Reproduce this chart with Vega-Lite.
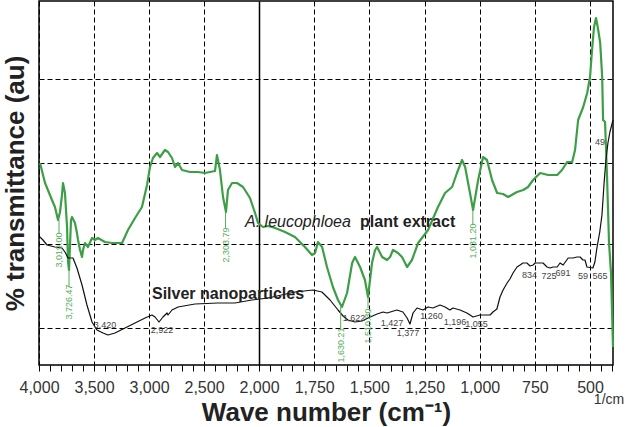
{
  "$schema": "https://vega.github.io/schema/vega-lite/v6.json",
  "width": 574,
  "height": 364,
  "autosize": "none",
  "padding": {"left": 39, "top": 1, "right": 13, "bottom": 62},
  "config": {
    "view": {"stroke": "#000", "strokeWidth": 1.5},
    "font": "Liberation Sans",
    "text": {"font": "Liberation Sans"}
  },
  "datasets": {
    "green": [
      {"wn":3991,"t":202},{"wn":3945,"t":182},{"wn":3882,"t":165},{"wn":3855,"t":158},{"wn":3827,"t":145},{"wn":3809,"t":153},{"wn":3791,"t":170},{"wn":3782,"t":182},{"wn":3764,"t":172},{"wn":3745,"t":138},{"wn":3736,"t":103},{"wn":3727,"t":95},{"wn":3718,"t":120},{"wn":3709,"t":145},{"wn":3700,"t":148},{"wn":3673,"t":142},{"wn":3655,"t":132},{"wn":3645,"t":125},{"wn":3627,"t":115},{"wn":3609,"t":108},{"wn":3600,"t":115},{"wn":3582,"t":122},{"wn":3555,"t":118},{"wn":3518,"t":127},{"wn":3491,"t":125},{"wn":3464,"t":127},{"wn":3400,"t":123},{"wn":3336,"t":122},{"wn":3245,"t":122},{"wn":3191,"t":135},{"wn":3127,"t":147},{"wn":3064,"t":158},{"wn":3018,"t":180},{"wn":2991,"t":198},{"wn":2964,"t":207},{"wn":2927,"t":212},{"wn":2900,"t":208},{"wn":2855,"t":215},{"wn":2827,"t":213},{"wn":2791,"t":207},{"wn":2764,"t":198},{"wn":2736,"t":202},{"wn":2700,"t":195},{"wn":2627,"t":193},{"wn":2555,"t":193},{"wn":2491,"t":192},{"wn":2400,"t":194},{"wn":2382,"t":210},{"wn":2355,"t":195},{"wn":2327,"t":168},{"wn":2300,"t":153},{"wn":2282,"t":175},{"wn":2245,"t":182},{"wn":2200,"t":182},{"wn":2145,"t":178},{"wn":2082,"t":167},{"wn":2036,"t":152},{"wn":2009,"t":142},
      {"wn":1982,"t":138},{"wn":1959,"t":139},{"wn":1927,"t":137},{"wn":1882,"t":133},{"wn":1837,"t":128},{"wn":1792,"t":118},{"wn":1760,"t":110},{"wn":1746,"t":112},{"wn":1733,"t":123},{"wn":1714,"t":118},{"wn":1692,"t":98},{"wn":1665,"t":78},{"wn":1642,"t":65},{"wn":1624,"t":58},{"wn":1601,"t":72},{"wn":1578,"t":102},{"wn":1565,"t":108},{"wn":1542,"t":98},{"wn":1520,"t":85},{"wn":1506,"t":68},{"wn":1488,"t":102},{"wn":1474,"t":115},{"wn":1465,"t":118},{"wn":1442,"t":108},{"wn":1420,"t":105},{"wn":1406,"t":108},{"wn":1393,"t":115},{"wn":1370,"t":112},{"wn":1352,"t":108},{"wn":1329,"t":98},{"wn":1307,"t":105},{"wn":1279,"t":122},{"wn":1234,"t":135},{"wn":1189,"t":158},{"wn":1157,"t":172},{"wn":1125,"t":178},{"wn":1103,"t":192},{"wn":1080,"t":205},{"wn":1066,"t":198},{"wn":1044,"t":172},{"wn":1030,"t":155},{"wn":1007,"t":185},{"wn":985,"t":208},{"wn":967,"t":205},{"wn":944,"t":185},{"wn":921,"t":172},{"wn":894,"t":171},{"wn":871,"t":168},{"wn":831,"t":173},{"wn":803,"t":175},{"wn":781,"t":178},{"wn":758,"t":185},{"wn":726,"t":192},{"wn":690,"t":190},{"wn":649,"t":190},{"wn":627,"t":195},{"wn":604,"t":203},{"wn":581,"t":203},{"wn":568,"t":215},{"wn":554,"t":245},{"wn":531,"t":258},{"wn":513,"t":272},{"wn":500,"t":288},{"wn":491,"t":315},{"wn":482,"t":338},{"wn":473,"t":347},{"wn":463,"t":335},{"wn":454,"t":322},{"wn":445,"t":288},{"wn":441,"t":245},{"wn":432,"t":243},{"wn":423,"t":188},{"wn":414,"t":122},{"wn":405,"t":92},{"wn":396,"t":18}
    ],
    "black": [
      {"wn":3991,"t":128},{"wn":3964,"t":125},{"wn":3927,"t":120},{"wn":3855,"t":118},{"wn":3791,"t":117},{"wn":3764,"t":113},{"wn":3736,"t":107},{"wn":3691,"t":107},{"wn":3655,"t":97},{"wn":3609,"t":80},{"wn":3564,"t":60},{"wn":3518,"t":43},{"wn":3473,"t":35},{"wn":3418,"t":32},{"wn":3373,"t":30},{"wn":3309,"t":32},{"wn":3218,"t":37},{"wn":3127,"t":42},{"wn":3036,"t":47},{"wn":2973,"t":50},{"wn":2945,"t":48},{"wn":2909,"t":43},{"wn":2873,"t":48},{"wn":2836,"t":52},{"wn":2827,"t":50},{"wn":2791,"t":55},{"wn":2736,"t":58},{"wn":2582,"t":61},{"wn":2373,"t":62},{"wn":2218,"t":62},{"wn":2064,"t":65},
      {"wn":1959,"t":67},{"wn":1837,"t":73},{"wn":1755,"t":75},{"wn":1715,"t":73},{"wn":1678,"t":65},{"wn":1642,"t":55},{"wn":1619,"t":49},{"wn":1597,"t":45},{"wn":1565,"t":43},{"wn":1533,"t":44},{"wn":1506,"t":47},{"wn":1465,"t":51},{"wn":1438,"t":53},{"wn":1420,"t":52},{"wn":1375,"t":55},{"wn":1348,"t":53},{"wn":1329,"t":47},{"wn":1316,"t":41},{"wn":1302,"t":52},{"wn":1284,"t":57},{"wn":1257,"t":55},{"wn":1234,"t":58},{"wn":1212,"t":57},{"wn":1180,"t":60},{"wn":1157,"t":58},{"wn":1135,"t":55},{"wn":1121,"t":57},{"wn":1089,"t":55},{"wn":1058,"t":52},{"wn":1030,"t":48},{"wn":999,"t":50},{"wn":953,"t":50},{"wn":940,"t":53},{"wn":922,"t":56},{"wn":908,"t":68},{"wn":894,"t":75},{"wn":876,"t":82},{"wn":863,"t":86},{"wn":849,"t":92},{"wn":831,"t":98},{"wn":817,"t":100},{"wn":804,"t":102},{"wn":786,"t":102},{"wn":772,"t":99},{"wn":758,"t":100},{"wn":749,"t":102},{"wn":727,"t":102},{"wn":713,"t":102},{"wn":695,"t":98},{"wn":681,"t":97},{"wn":668,"t":98},{"wn":649,"t":98},{"wn":636,"t":102},{"wn":622,"t":100},{"wn":599,"t":107},{"wn":577,"t":107},{"wn":559,"t":108},{"wn":545,"t":108},{"wn":532,"t":105},{"wn":523,"t":105},{"wn":514,"t":98},{"wn":487,"t":97},{"wn":478,"t":103},{"wn":469,"t":117},{"wn":456,"t":133},{"wn":446,"t":150},{"wn":437,"t":180},{"wn":428,"t":205},{"wn":419,"t":222},{"wn":410,"t":233},{"wn":396,"t":245}
    ],
    "peakRules": [
      {"wn":3818,"t":145,"t2":132},
      {"wn":3727,"t":95,"t2":78},
      {"wn":2304,"t":152,"t2":137},
      {"wn":1630,"t":58,"t2":35},
      {"wn":1506,"t":68,"t2":57},
      {"wn":1031,"t":155,"t2":140}
    ],
    "peakLabels": [
      {"wn":3818,"t":115,"label":"3,019.00"},
      {"wn":3727,"t":63,"label":"3,726.47"},
      {"wn":2304,"t":120,"label":"2,303.79"},
      {"wn":1630,"t":20,"label":"1,630.21"},
      {"wn":1506,"t":39,"label":"1,510.30"},
      {"wn":1031,"t":124,"label":"1,031.20"}
    ],
    "blackLabels": [
      {"wn":3400,"t":40,"label":"3,420"},
      {"wn":2882,"t":35,"label":"2,922"},
      {"wn":1570,"t":47,"label":"1,622"},
      {"wn":1397,"t":42,"label":"1,427"},
      {"wn":1325,"t":32,"label":"1,377"},
      {"wn":1218,"t":49,"label":"1,260"},
      {"wn":1112,"t":43,"label":"1,196"},
      {"wn":1014,"t":41,"label":"1,055"},
      {"wn":774,"t":90,"label":"834"},
      {"wn":686,"t":89,"label":"725"},
      {"wn":623,"t":92,"label":"691"},
      {"wn":532,"t":89,"label":"59"},
      {"wn":455,"t":89,"label":"565"},
      {"wn":455,"t":223,"label":"49"}
    ],
    "italicNotes": [
      {"wn":2127,"t":138,"label":"A. leucophloea"}
    ],
    "boldNotes": [
      {"wn":1542,"t":138,"label":"plant extract"},
      {"wn":2973,"t":66,"label":"Silver nanoparticles"}
    ],
    "unitNote": [
      {"wn":414,"t":-35,"label":"1/cm"}
    ]
  },
  "encoding": {
    "x": {
      "field": "wn",
      "type": "quantitative",
      "scale": {"domain": [4000, 2000, 396], "range": [0, 220, 574], "zero": false, "nice": false},
      "axis": {
        "title": "Wave number (cm⁻¹)",
        "values": [4000,3900,3800,3700,3600,3500,3400,3300,3200,3100,3000,2900,2800,2700,2600,2500,2400,2300,2200,2100,2000,1950,1900,1850,1800,1750,1700,1650,1600,1550,1500,1450,1400,1350,1300,1250,1200,1150,1100,1050,1000,950,900,850,800,750,700,650,600,550,500,450,400],
        "labelExpr": "(datum.value >= 2000 ? datum.value % 500 === 0 : datum.value % 250 === 0) ? format(datum.value, ',') : ''",
        "labelOverlap": false,
        "labelFlush": false,
        "labelFont": "Liberation Sans",
        "labelFontSize": 16,
        "labelColor": "#333333",
        "labelPadding": 8,
        "tickSize": 6,
        "tickColor": "#000000",
        "tickWidth": 1,
        "domain": false,
        "grid": true,
        "gridColor": "#000000",
        "gridOpacity": {"condition": {"test": "(datum.value >= 2000 ? datum.value % 500 === 0 : datum.value % 250 === 0)", "value": 1}, "value": 0},
        "gridDash": {"condition": {"test": "datum.value === 2000", "value": []}, "value": [5, 3]},
        "gridWidth": {"condition": {"test": "datum.value === 2000", "value": 1.5}, "value": 1},
        "titleFont": "Liberation Sans",
        "titleFontSize": 26,
        "titleFontWeight": "bold",
        "titleColor": "#222222",
        "titlePadding": 4
      }
    },
    "y": {
      "field": "t",
      "type": "quantitative",
      "scale": {"domain": [0, 364], "zero": false, "nice": false},
      "axis": {
        "title": "% transmittance (au)",
        "values": [37, 121, 202, 286],
        "labels": false,
        "ticks": false,
        "tickSize": 0,
        "domain": false,
        "grid": true,
        "gridColor": "#000000",
        "gridDash": [5, 3],
        "gridWidth": 1,
        "titleFont": "Liberation Sans",
        "titleFontSize": 26,
        "titleFontWeight": "bold",
        "titleColor": "#222222",
        "titlePadding": 11
      }
    }
  },
  "layer": [
    {
      "data": {"name": "green"},
      "mark": {"type": "line", "color": "#3d9f45", "strokeWidth": 2.2, "strokeJoin": "round"}
    },
    {
      "data": {"name": "black"},
      "mark": {"type": "line", "color": "#111111", "strokeWidth": 1.2, "strokeJoin": "round"}
    },
    {
      "data": {"name": "peakRules"},
      "mark": {"type": "rule", "color": "#55ad5a", "strokeWidth": 1},
      "encoding": {"y2": {"field": "t2"}}
    },
    {
      "data": {"name": "peakLabels"},
      "mark": {"type": "text", "angle": 270, "fontSize": 9, "color": "#55ad5a", "align": "center", "baseline": "middle"},
      "encoding": {"text": {"field": "label"}}
    },
    {
      "data": {"name": "blackLabels"},
      "mark": {"type": "text", "fontSize": 9, "color": "#444444", "align": "center", "baseline": "middle"},
      "encoding": {"text": {"field": "label"}}
    },
    {
      "data": {"name": "italicNotes"},
      "mark": {"type": "text", "fontSize": 16, "fontStyle": "italic", "color": "#222222", "align": "left", "baseline": "alphabetic"},
      "encoding": {"text": {"field": "label"}}
    },
    {
      "data": {"name": "boldNotes"},
      "mark": {"type": "text", "fontSize": 16, "fontWeight": "bold", "color": "#222222", "align": "left", "baseline": "alphabetic"},
      "encoding": {"text": {"field": "label"}}
    },
    {
      "data": {"name": "unitNote"},
      "mark": {"type": "text", "fontSize": 14, "color": "#333333", "align": "center", "baseline": "middle"},
      "encoding": {"text": {"field": "label"}}
    }
  ]
}
